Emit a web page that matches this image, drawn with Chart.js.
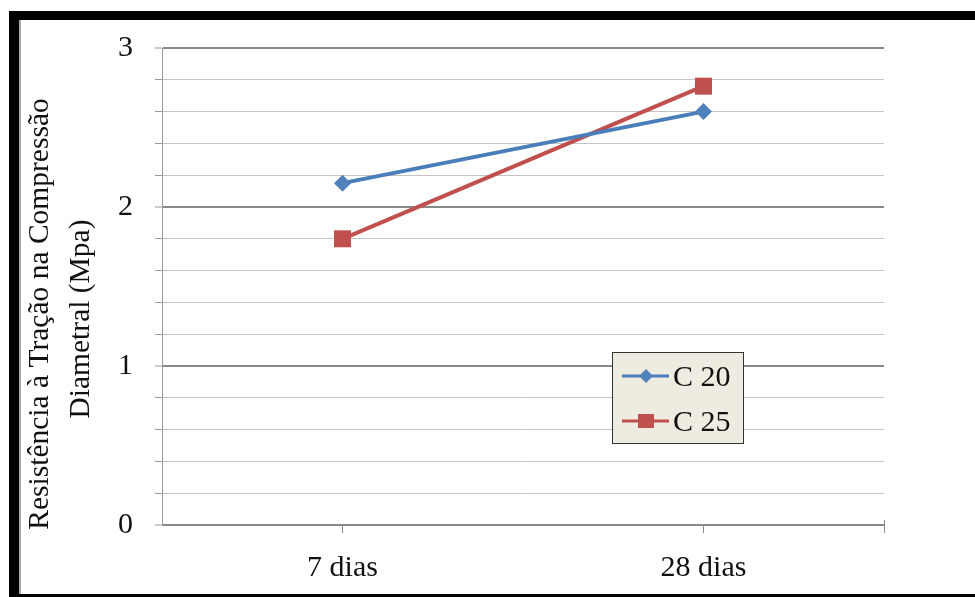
<!DOCTYPE html>
<html>
<head>
<meta charset="utf-8">
<script src="https://cdn.jsdelivr.net/npm/chart.js@4/dist/chart.umd.min.js"></script>
<style>
  html, body { margin: 0; padding: 0; background: #fff; }
  #wrap { position: relative; width: 975px; height: 597px; overflow: hidden; }
  .bar { position: absolute; background: #000; }
</style>
</head>
<body>
<div id="wrap">
  <canvas id="chart" width="975" height="597"></canvas>
  <div class="bar" style="left:9px;top:11px;width:966px;height:9px"></div>
  <div class="bar" style="left:9px;top:11px;width:10px;height:586px"></div>
  <div class="bar" style="left:19px;top:20px;width:2px;height:577px;background:#aaa"></div>
  <div class="bar" style="left:9px;top:594px;width:966px;height:3px"></div>
</div>
<script>
// dados
const categorias = ['7 dias', '28 dias'];
const serieNomes = ['C 20', 'C 25'];
const c20 = [2.15, 2.6];
const c25 = [1.8, 2.76];
const tituloY = ['Resistência à Tração na Compressão', 'Diametral (Mpa)'];

const azul = '#4a7ebb';
const vermelho = '#c0504d';
const fonte = '"Liberation Serif", "Times New Roman", serif';

const ehInteiro = v => Math.abs(v - Math.round(v)) < 1e-6;

// título do eixo Y, legenda e tick final do eixo X
const extras = {
    id: 'extras',
    afterDraw(chart) {
        const ctx = chart.ctx;
        const area = chart.chartArea;
        ctx.save();

        // tick no fim do eixo X
        ctx.strokeStyle = '#888';
        ctx.lineWidth = 1;
        ctx.beginPath();
        ctx.moveTo(area.right + 0.5, area.bottom - 5);
        ctx.lineTo(area.right + 0.5, area.bottom + 8);
        ctx.stroke();

        // título do eixo Y (duas linhas)
        ctx.fillStyle = '#111';
        ctx.font = '29.5px ' + fonte;
        ctx.textAlign = 'center';
        ctx.textBaseline = 'middle';
        const posTitulo = [[40, 314], [81, 319]];
        tituloY.forEach((t, i) => {
            ctx.save();
            ctx.translate(posTitulo[i][0], posTitulo[i][1]);
            ctx.rotate(-Math.PI / 2);
            ctx.fillText(t, 0, 0);
            ctx.restore();
        });

        // legenda
        const lx = 612, ly = 352, lw = 131, lh = 91;
        ctx.fillStyle = '#eeece1';
        ctx.fillRect(lx, ly, lw, lh);
        ctx.strokeStyle = '#333';
        ctx.lineWidth = 1;
        ctx.strokeRect(lx + 0.5, ly + 0.5, lw, lh);

        chart.data.datasets.forEach((ds, i) => {
            const cy = 376 + i * 45;
            ctx.strokeStyle = ds.borderColor;
            ctx.lineWidth = 3;
            ctx.beginPath();
            ctx.moveTo(622, cy);
            ctx.lineTo(669, cy);
            ctx.stroke();
            ctx.fillStyle = ds.pointBackgroundColor;
            ctx.beginPath();
            if (ds.pointStyle === 'rectRot') {
                const r = 7;
                ctx.moveTo(646, cy - r);
                ctx.lineTo(646 + r, cy);
                ctx.lineTo(646, cy + r);
                ctx.lineTo(646 - r, cy);
                ctx.closePath();
            } else {
                ctx.rect(638, cy - 7, 16, 14);
            }
            ctx.fill();
            ctx.fillStyle = '#111';
            ctx.font = '30px ' + fonte;
            ctx.textAlign = 'left';
            ctx.textBaseline = 'alphabetic';
            ctx.fillText(ds.label, 673, cy + 10);
        });
        ctx.restore();
    }
};

const bg = {
    id: 'bg',
    beforeDraw(chart) {
        const ctx = chart.ctx;
        ctx.save();
        ctx.fillStyle = '#fff';
        ctx.fillRect(0, 0, chart.width, chart.height);
        ctx.restore();
    }
};

const ctx = document.getElementById('chart').getContext('2d');
const chart = new Chart(ctx, {
    type: 'line',
    data: {
        labels: categorias,
        datasets: [{
                label: serieNomes[0],
                data: c20,
                borderColor: azul,
                backgroundColor: '#4f81bd',
                pointBackgroundColor: '#4f81bd',
                pointBorderColor: '#4f81bd',
                pointStyle: 'rectRot',
                pointRadius: 8.5,
                pointBorderWidth: 0,
                borderWidth: 4,
                fill: false
            },
            {
                label: serieNomes[1],
                data: c25,
                borderColor: vermelho,
                backgroundColor: vermelho,
                pointBackgroundColor: vermelho,
                pointBorderColor: vermelho,
                pointStyle: 'rect',
                pointRadius: 12,
                pointBorderWidth: 0,
                borderWidth: 4,
                fill: false
            }
        ]
    },
    options: {
        responsive: false,
        animation: false,
        devicePixelRatio: 1,
        layout: { padding: { top: 48, right: 91, left: 0, bottom: 0 } },
        plugins: {
            legend: { display: false },
            tooltip: { enabled: false }
        },
        scales: {
            x: {
                offset: true,
                afterFit: s => { s.height = 72; },
                grid: {
                    offset: false,
                    drawOnChartArea: false,
                    color: '#888',
                    tickLength: 8
                },
                border: { color: '#888', width: 1 },
                ticks: {
                    color: '#111',
                    padding: 17,
                    font: { family: fonte, size: 30 }
                }
            },
            y: {
                min: 0,
                max: 3,
                afterFit: s => { s.width = 162; },
                grid: {
                    color: c => ehInteiro(c.tick.value) ? '#888' : '#c4c4c4',
                    lineWidth: c => ehInteiro(c.tick.value) ? 2 : 1,
                    tickColor: '#999',
                    tickWidth: 1,
                    tickLength: 7
                },
                border: { color: '#999', width: 1 },
                ticks: {
                    stepSize: 0.2,
                    autoSkip: false,
                    color: '#111',
                    padding: 22,
                    font: { family: fonte, size: 30 },
                    callback: v => ehInteiro(v) ? String(Math.round(v)) : ''
                }
            }
        }
    },
    plugins: [bg, extras]
});
</script>
</body>
</html>
